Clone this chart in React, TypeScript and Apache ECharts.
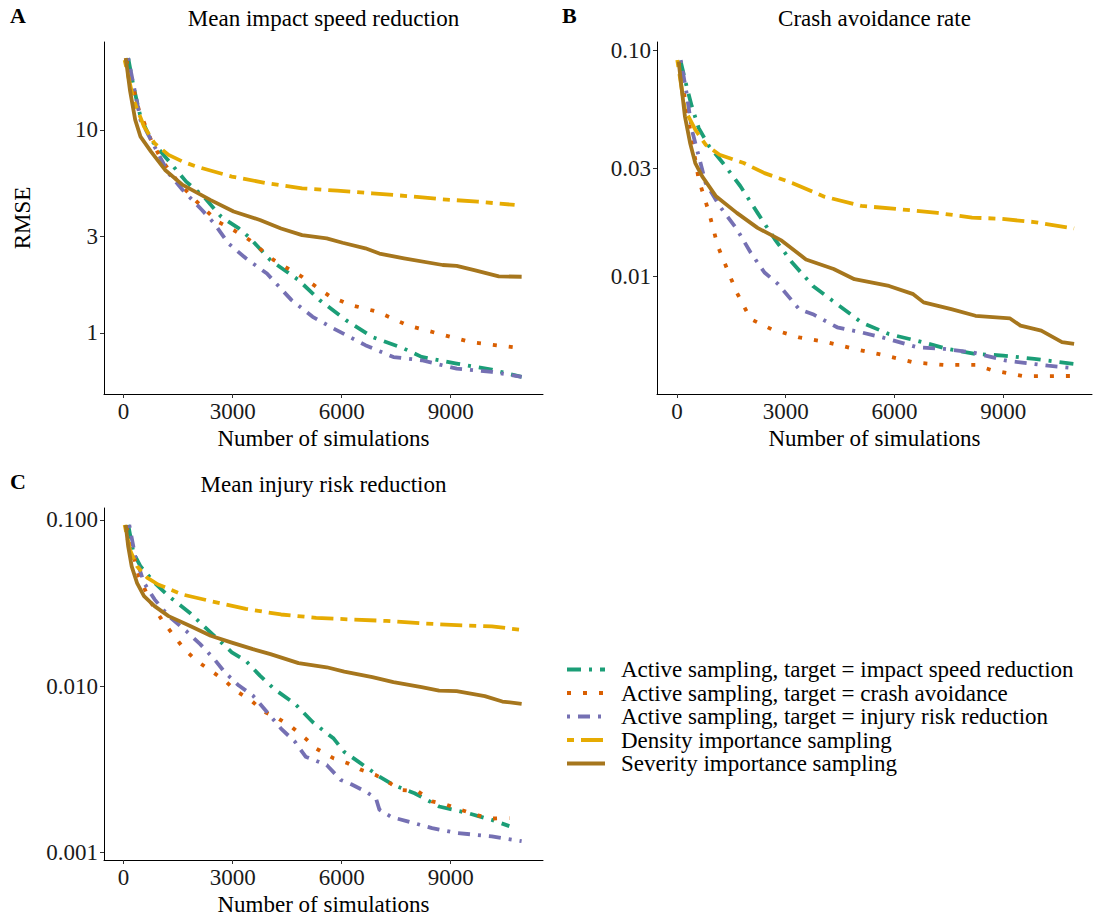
import React, { useEffect, useRef } from "react";
import * as echarts from "echarts";

// ---------- labels ----------
const seriesNames = [
  "Active sampling, target = impact speed reduction",
  "Active sampling, target = crash avoidance",
  "Active sampling, target = injury risk reduction",
  "Density importance sampling",
  "Severity importance sampling",
];
const seriesColors = ["#1B9E77", "#D95F02", "#7570B3", "#E6AB02", "#A6761D"];
const panelTitles = ["Mean impact speed reduction", "Crash avoidance rate", "Mean injury risk reduction"];
const panelLetters = ["A", "B", "C"];
const xTicks = [0, 3000, 6000, 9000];
const yTicksA = [1, 3, 10];
const yTicksB = [0.01, 0.03, 0.1];
const yTicksC = [0.001, 0.01, 0.1];

// ---------- panel A: mean impact speed reduction ----------
const A_impact: [number, number][] = [
  [126, 22.6], [271, 16.4], [464, 11.6], [754, 8.93], [1141, 7.38], [1721, 5.56], [2204, 4.69],
  [2687, 3.73], [3171, 3.27], [3461, 2.95], [4041, 2.28], [4814, 1.82], [5394, 1.45], [6119, 1.155],
  [6844, 0.955], [7714, 0.837], [8198, 0.762], [9164, 0.706], [10131, 0.659], [10952, 0.607],
];
const A_crash: [number, number][] = [
  [77, 22.1], [416, 12.6], [754, 8.93], [1044, 7.11], [1527, 5.46], [1962, 4.52], [2591, 3.53],
  [3026, 3.21], [3461, 2.87], [4137, 2.28], [4911, 1.89], [5684, 1.51], [6264, 1.37], [6989, 1.27],
  [7811, 1.09], [8681, 0.99], [9551, 0.9], [10952, 0.84],
];
const A_injury: [number, number][] = [
  [126, 22.6], [464, 11.2], [851, 8.28], [1237, 6.11], [1624, 5.06], [2156, 4.03], [2494, 3.46],
  [2881, 2.76], [3364, 2.33], [3944, 1.96], [4621, 1.45], [5201, 1.2], [5781, 1.05], [6651, 0.87],
  [7424, 0.76], [8198, 0.733], [9164, 0.667], [10131, 0.642], [10952, 0.607],
];
const A_density: [number, number][] = [
  [29, 22.1], [271, 14.1], [561, 10.4], [851, 8.59], [1237, 7.53], [1624, 6.98], [2011, 6.59],
  [2977, 5.89], [3944, 5.46], [4911, 5.15], [5878, 5.02], [6844, 4.87], [7811, 4.72], [8778, 4.55],
  [9744, 4.43], [10759, 4.27],
];
const A_severity: [number, number][] = [
  [58, 22.6], [174, 15.7], [319, 11.2], [464, 9.27], [754, 7.82], [1141, 6.35], [1624, 5.36],
  [2397, 4.51], [3026, 3.96], [3751, 3.6], [4331, 3.27], [4911, 3.03], [5588, 2.92], [6023, 2.78],
  [6651, 2.61], [7038, 2.46], [7714, 2.33], [8778, 2.16], [9164, 2.14], [9648, 2.04], [10324, 1.9],
  [10952, 1.89],
];

// ---------- panel B: crash avoidance rate ----------
const B_impact: [number, number][] = [
  [105, 0.0889], [267, 0.069], [410, 0.0564], [601, 0.0452], [888, 0.0376], [1269, 0.0317],
  [1747, 0.0251], [2224, 0.0191], [2701, 0.0146], [3178, 0.01153], [3751, 0.00909], [4419, 0.00755],
  [5087, 0.00628], [5850, 0.00557], [6614, 0.00521], [7473, 0.00479], [8236, 0.00455], [9000, 0.00448],
  [9859, 0.00433], [10956, 0.00411],
];
const B_crash: [number, number][] = [
  [48, 0.0889], [410, 0.0402], [601, 0.0268], [888, 0.0191], [1126, 0.01365], [1460, 0.01007],
  [1651, 0.0085], [2033, 0.00649], [2606, 0.00586], [3369, 0.00539], [4133, 0.00513], [4896, 0.00479],
  [5755, 0.00448], [6519, 0.00418], [7378, 0.00407], [8236, 0.00407], [8714, 0.00385], [9572, 0.00363],
  [10956, 0.00364],
];
const B_injury: [number, number][] = [
  [105, 0.0903], [267, 0.0644], [410, 0.0445], [601, 0.034], [792, 0.0259], [1174, 0.0205],
  [1651, 0.0162], [2033, 0.01276], [2415, 0.01042], [2796, 0.00925], [3369, 0.00718], [3751, 0.00682],
  [4419, 0.00597], [5087, 0.00567], [5659, 0.00539], [6614, 0.00488], [7378, 0.00479], [8141, 0.00463],
  [9095, 0.00425], [10240, 0.00404], [10956, 0.00394],
];
const B_density: [number, number][] = [
  [10, 0.0903], [220, 0.0545], [506, 0.0445], [792, 0.0382], [1174, 0.0345], [1842, 0.0317],
  [2415, 0.0286], [3178, 0.0259], [4037, 0.0226], [5087, 0.0205], [6041, 0.0199], [7187, 0.0191],
  [8141, 0.0182], [8905, 0.018], [9859, 0.0174], [10956, 0.0163],
];
const B_severity: [number, number][] = [
  [48, 0.0889], [124, 0.069], [220, 0.051], [363, 0.0389], [506, 0.0317], [697, 0.0277], [1078, 0.0226],
  [1651, 0.0191], [2224, 0.0164], [2892, 0.0144], [3560, 0.0119], [4323, 0.0108], [4896, 0.00973],
  [5850, 0.00909], [6519, 0.00836], [6805, 0.00769], [7568, 0.00718], [8236, 0.00671], [9190, 0.00653],
  [9477, 0.00607], [10050, 0.00577], [10622, 0.00513], [10956, 0.00504],
];

// ---------- panel C: mean injury risk reduction ----------
const C_impact: [number, number][] = [
  [126, 0.0933], [271, 0.0633], [464, 0.0526], [851, 0.0419], [1237, 0.0348], [1817, 0.0277],
  [2397, 0.021], [2977, 0.016], [3364, 0.0142], [3751, 0.01158], [4137, 0.00964], [4717, 0.00783],
  [5201, 0.00609], [5781, 0.00484], [6071, 0.00403], [6458, 0.00352], [7038, 0.00286], [7424, 0.00255],
  [8005, 0.00227], [8681, 0.00189], [9454, 0.00173], [10131, 0.00157], [10614, 0.00144],
];
const C_crash: [number, number][] = [
  [77, 0.0912], [416, 0.0458], [754, 0.0318], [1044, 0.0252], [1382, 0.0201], [1672, 0.0167],
  [2011, 0.0142], [2397, 0.01241], [2784, 0.01081], [3074, 0.00942], [3509, 0.00821], [3848, 0.00706],
  [4234, 0.00644], [4621, 0.00569], [5008, 0.00484], [5298, 0.00422], [5781, 0.00368], [6168, 0.00344],
  [6554, 0.00313], [6941, 0.00292], [7328, 0.00261], [7618, 0.00238], [8101, 0.00233], [8488, 0.00203],
  [8874, 0.00194], [9261, 0.00181], [9744, 0.00167], [10131, 0.0016], [10614, 0.00161],
];
const C_injury: [number, number][] = [
  [155, 0.0933], [319, 0.0604], [561, 0.0419], [851, 0.0333], [1237, 0.0264], [1721, 0.0215],
  [2107, 0.0179], [2494, 0.01456], [2784, 0.01213], [3171, 0.01009], [3557, 0.00879], [3944, 0.007],
  [4331, 0.00556], [4717, 0.00463], [5008, 0.00377], [5588, 0.00336], [5974, 0.00273], [6264, 0.00257],
  [6651, 0.00233], [6941, 0.00212], [7038, 0.00181], [7376, 0.00163], [7811, 0.00154], [8488, 0.0014],
  [9164, 0.00131], [10131, 0.00125], [10952, 0.00117],
];
const C_density: [number, number][] = [
  [29, 0.0933], [174, 0.0662], [367, 0.0526], [657, 0.0448], [947, 0.0409], [1624, 0.0356],
  [2397, 0.0325], [3364, 0.0292], [4331, 0.027], [5298, 0.0258], [6264, 0.0252], [7231, 0.0247],
  [8198, 0.0239], [9164, 0.0233], [10131, 0.0229], [10952, 0.0218],
];
const C_severity: [number, number][] = [
  [58, 0.0933], [126, 0.0693], [222, 0.0526], [367, 0.0419], [561, 0.0348], [851, 0.0303], [1237, 0.0264],
  [1817, 0.0231], [2397, 0.0201], [2977, 0.0183], [3557, 0.0167], [4041, 0.0156], [4814, 0.01377],
  [5588, 0.013], [6071, 0.01225], [6844, 0.01133], [7424, 0.01057], [8198, 0.00986], [8681, 0.00942],
  [9164, 0.00933], [9938, 0.00871], [10421, 0.00809], [10952, 0.00784],
];

const panelData = [
  [A_impact, A_crash, A_injury, A_density, A_severity],
  [B_impact, B_crash, B_injury, B_density, B_severity],
  [C_impact, C_crash, C_injury, C_density, C_severity],
];

const FONT = "Liberation Serif";
const FS = 23;
const dashStyles: any[] = [[14, 8, 3, 8], [4, 12], [3, 8, 12, 8], [7, 7, 22, 7], "solid"];

export default function App() {
  const ref = useRef<HTMLDivElement>(null);
  useEffect(() => {
    document.body.style.margin = "0";
    if (!ref.current) return;
    const chart = echarts.init(ref.current, undefined, { renderer: "svg" });

    const grids = [
      { left: 104, top: 42, width: 439, height: 352 },
      { left: 657, top: 42, width: 435, height: 352 },
      { left: 104, top: 508, width: 439, height: 352 },
    ];
    const xRanges = [[-540, 11540], [-550, 11450], [-540, 11540]];
    const yRanges = [[0.5, 27.1], [0.00303, 0.1085], [0.000901, 0.118]];
    const yTicks = [yTicksA, yTicksB, yTicksC];
    const yFmt = [
      (v: number) => String(Math.round(v)),
      (v: number) => v.toFixed(2),
      (v: number) => v.toFixed(3),
    ];

    const axisLine = { show: true, onZero: false, lineStyle: { color: "#000", width: 1 } };
    const labelStyle = { fontFamily: FONT, fontSize: FS, color: "#1a1a1a" };

    const xAxis = grids.map((_, i) => ({
      type: "value",
      gridIndex: i,
      min: xRanges[i][0],
      max: xRanges[i][1],
      axisLine,
      splitLine: { show: false },
      axisTick: { show: true, length: 4, customValues: xTicks, lineStyle: { color: "#333" } },
      axisLabel: { ...labelStyle, margin: 6, customValues: xTicks, formatter: (v: number) => String(v) },
    }));
    const yAxis = grids.map((_, i) => ({
      type: "log",
      logBase: 10,
      gridIndex: i,
      min: yRanges[i][0],
      max: yRanges[i][1],
      axisLine,
      splitLine: { show: false },
      minorTick: { show: false },
      axisTick: { show: true, length: 4, customValues: yTicks[i], lineStyle: { color: "#333" } },
      axisLabel: { ...labelStyle, margin: 6, customValues: yTicks[i], formatter: yFmt[i] },
    }));

    const series: any[] = [];
    panelData.forEach((sets, p) => {
      sets.forEach((d, s) => {
        series.push({
          type: "line",
          name: seriesNames[s],
          xAxisIndex: p,
          yAxisIndex: p,
          data: d,
          symbol: "none",
          silent: true,
          z: 2 + s,
          itemStyle: { color: seriesColors[s] },
          lineStyle: { color: seriesColors[s], width: 3.8, type: dashStyles[s], cap: "butt", join: "round" },
        });
      });
    });

    const txt = (text: string, x: number, y: number, extra: any = {}) => ({
      type: "text",
      x,
      y,
      silent: true,
      style: {
        text,
        fontFamily: FONT,
        fontSize: FS,
        fill: "#000",
        textAlign: "center",
        textVerticalAlign: "middle",
        ...extra,
      },
    });

    const graphic: any[] = [
      txt(panelTitles[0], 323.5, 18),
      txt(panelTitles[1], 874.5, 18),
      txt(panelTitles[2], 323.5, 484),
      txt(panelLetters[0], 10, 15, { fontWeight: "bold", fontSize: 22, textAlign: "left" }),
      txt(panelLetters[1], 562, 15, { fontWeight: "bold", fontSize: 22, textAlign: "left" }),
      txt(panelLetters[2], 10, 481, { fontWeight: "bold", fontSize: 22, textAlign: "left" }),
      txt("Number of simulations", 323.5, 438),
      txt("Number of simulations", 874.5, 438),
      txt("Number of simulations", 323.5, 904),
      { ...txt("RMSE", 22, 218), rotation: Math.PI / 2 },
    ];

    chart.setOption({
      animation: false,
      textStyle: { fontFamily: FONT },
      grid: grids,
      xAxis,
      yAxis,
      series,
      graphic,
      legend: {
        orient: "vertical",
        left: 560,
        top: 653,
        itemWidth: 38,
        itemHeight: 12,
        itemGap: 0.5,
        selectedMode: false,
        data: seriesNames,
        itemStyle: { opacity: 0 },
        lineStyle: { width: 4 },
        textStyle: { fontFamily: FONT, fontSize: 23, color: "#000", lineHeight: 23, padding: [0, 0, 0, 11] },
      },
    });
    return () => chart.dispose();
  }, []);
  return <div ref={ref} style={{ width: 1093, height: 920 }} />;
}
